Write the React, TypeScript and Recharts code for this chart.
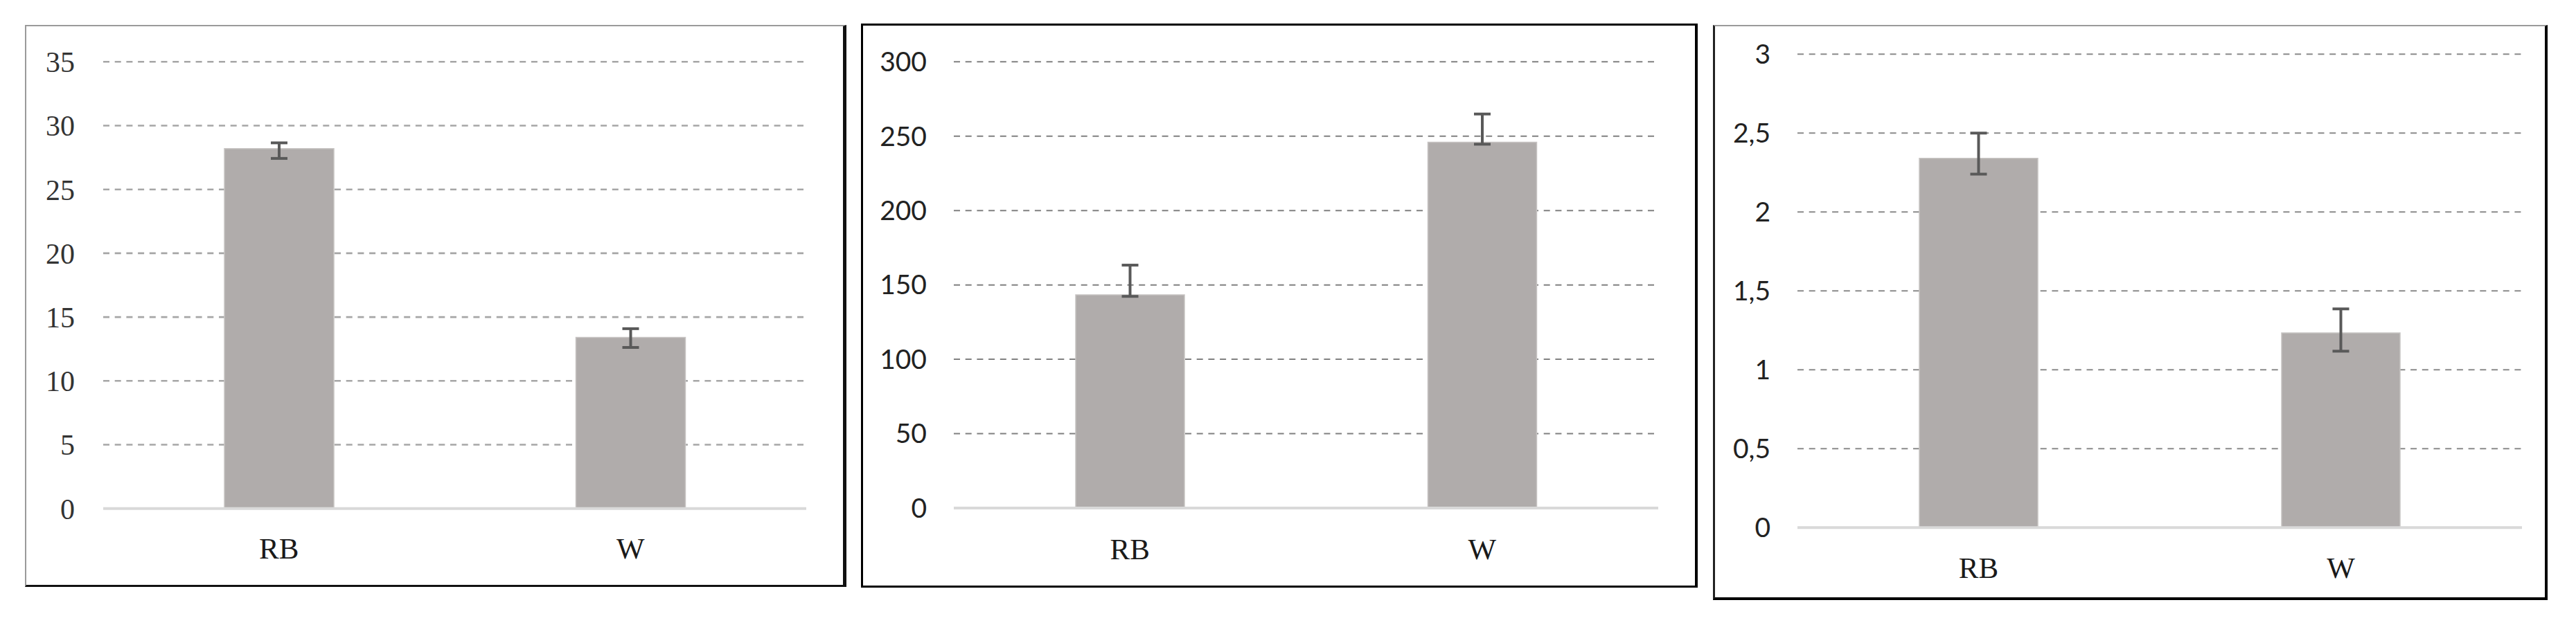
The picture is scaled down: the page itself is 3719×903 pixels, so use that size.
import React from 'react';
import { BarChart, Bar, XAxis, YAxis, CartesianGrid, ErrorBar } from 'recharts';

const categories = ['RB', 'W'];

const leftValues = [28.2, 13.4];
const leftErrors = [[0.77, 0.45], [0.78, 0.69]];
const leftTicks = [0, 5, 10, 15, 20, 25, 30, 35];

const middleValues = [143.3, 245.9];
const middleErrors = [[1, 20], [1.3, 19]];
const middleTicks = [0, 50, 100, 150, 200, 250, 300];

const rightValues = [2.34, 1.234];
const rightErrors = [[0.1, 0.16], [0.116, 0.152]];
const rightTicks = [0, 0.5, 1, 1.5, 2, 2.5, 3];

const toRows = (values: number[], errors: number[][]) =>
  categories.map((name, i) => ({ name, value: values[i], err: errors[i] }));

const BAR_FILL = '#b0acab';
const LABEL_FONT = '"Liberation Serif", serif';
const SANS_FONT = 'Lato, "Open Sans", sans-serif';

interface PanelProps {
  left: number;
  top: number;
  width: number;
  height: number;
  margin: { top: number; right: number; bottom: number; left: number };
  yWidth: number;
  yTickMargin: number;
  xTickMargin: number;
  rows: { name: string; value: number; err: number[] }[];
  ticks: number[];
  barSize: number;
  gridStroke: string;
  gridWidth: number;
  tickFont: string;
  tickSize: number;
  tickColor: string;
  decimalComma?: boolean;
}

const Panel: React.FC<PanelProps> = (p) => (
  <div style={{ position: 'absolute', left: p.left, top: p.top }}>
    <BarChart width={p.width} height={p.height} data={p.rows} margin={p.margin} barCategoryGap={0}>
      <CartesianGrid
        vertical={false}
        stroke={p.gridStroke}
        strokeWidth={p.gridWidth}
        strokeDasharray="9 7.7"
      />
      <XAxis
        dataKey="name"
        height={60}
        tickLine={false}
        tickSize={0}
        tickMargin={p.xTickMargin}
        axisLine={{ stroke: '#d9d9d9', strokeWidth: 4 }}
        tick={{ fill: '#1a1a1a', fontSize: 43, fontFamily: LABEL_FONT }}
      />
      <YAxis
        width={p.yWidth}
        domain={[p.ticks[0], p.ticks[p.ticks.length - 1]]}
        ticks={p.ticks}
        interval={0}
        axisLine={false}
        tickLine={false}
        tickSize={0}
        tickMargin={p.yTickMargin}
        tickFormatter={(v: number) => (p.decimalComma ? String(v).replace('.', ',') : String(v))}
        tick={{ fill: p.tickColor, fontSize: p.tickSize, fontFamily: p.tickFont }}
      />
      <Bar dataKey="value" fill={BAR_FILL} stroke="#c6c3c2" strokeWidth={1.5} barSize={p.barSize} isAnimationActive={false}>
        <ErrorBar dataKey="err" width={12} stroke="#595959" strokeWidth={4} direction="y" />
      </Bar>
    </BarChart>
  </div>
);

const Frame: React.FC<{
  left: number;
  top: number;
  width: number;
  height: number;
  bl: string;
  bt: string;
  br: string;
  bb: string;
}> = ({ left, top, width, height, bl, bt, br, bb }) => (
  <div
    style={{
      position: 'absolute',
      left,
      top,
      width,
      height,
      boxSizing: 'border-box',
      borderLeft: bl,
      borderTop: bt,
      borderRight: br,
      borderBottom: bb,
    }}
  />
);

export default function App() {
  return (
    <div style={{ position: 'absolute', left: 0, top: 0, width: 3719, height: 903, background: '#fff', overflow: 'hidden' }}>
      <Frame left={36} top={36} width={1186} height={812} bl="2px solid #9a9a9a" bt="2px solid #9a9a9a" br="5px solid #111" bb="3px solid #111" />
      <Frame left={1243} top={34} width={1208} height={815} bl="3px solid #000" bt="3px solid #000" br="4px solid #000" bb="3px solid #000" />
      <Frame left={2473} top={36} width={1205} height={831} bl="3px solid #222" bt="2px solid #9a9a9a" br="4px solid #000" bb="4px solid #000" />

      <Panel
        left={40}
        top={40}
        width={1170}
        height={800}
        margin={{ top: 49.3, right: 46, bottom: 45.3, left: 0 }}
        yWidth={109}
        yTickMargin={41}
        xTickMargin={42}
        rows={toRows(leftValues, leftErrors)}
        ticks={leftTicks}
        barSize={158}
        gridStroke="#a6a6a6"
        gridWidth={2.6}
        tickFont={LABEL_FONT}
        tickSize={42}
        tickColor="#333"
      />
      <Panel
        left={1250}
        top={40}
        width={1190}
        height={800}
        margin={{ top: 49.3, right: 46, bottom: 46, left: 0 }}
        yWidth={127}
        yTickMargin={39}
        xTickMargin={43}
        rows={toRows(middleValues, middleErrors)}
        ticks={middleTicks}
        barSize={157}
        gridStroke="#808080"
        gridWidth={2}
        tickFont={SANS_FONT}
        tickSize={39}
        tickColor="#222"
      />
      <Panel
        left={2480}
        top={40}
        width={1190}
        height={820}
        margin={{ top: 38.3, right: 29, bottom: 37.7, left: 0 }}
        yWidth={115}
        yTickMargin={39}
        xTickMargin={42}
        rows={toRows(rightValues, rightErrors)}
        ticks={rightTicks}
        barSize={171}
        gridStroke="#8a8a8a"
        gridWidth={2}
        tickFont={SANS_FONT}
        tickSize={39}
        tickColor="#222"
        decimalComma
      />
    </div>
  );
}
